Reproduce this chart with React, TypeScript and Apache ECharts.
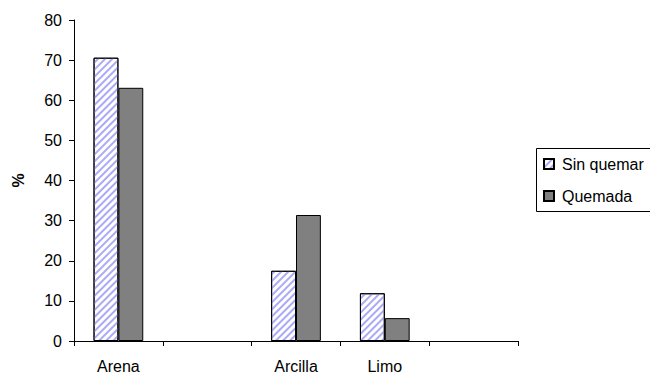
import React, { useEffect, useRef } from "react";
import * as echarts from "echarts";

const categories = ["Arena", "", "Arcilla", "Limo", ""];
const sinQuemar = [70.6, null, 17.5, 11.9, null];
const quemada = [63.1, null, 31.4, 5.7, null];
const yTicks = { min: 0, max: 80, interval: 10 };

const FONT = "'Liberation Sans', Arial, sans-serif";

export default function App() {
  const ref = useRef<HTMLDivElement>(null);

  useEffect(() => {
    document.body.style.margin = "0";
    const chart = echarts.init(ref.current!, null, { renderer: "svg" });
    chart.setOption({
      animation: false,
      backgroundColor: "#ffffff",
      textStyle: { fontFamily: FONT },
      grid: { left: 74, top: 20, right: 132, bottom: 34, outerBoundsMode: "none", containLabel: false },
      // legend frame runs past the right edge of the canvas
      graphic: [
        {
          type: "rect",
          shape: { x: 536.5, y: 148.5, width: 140, height: 63 },
          style: { fill: "none", stroke: "#000", lineWidth: 1 },
          z: 10,
        },
      ],
      legend: {
        orient: "vertical",
        left: 536,
        top: 148,
        itemWidth: 10,
        itemHeight: 10,
        itemGap: 16,
        padding: [8, 10, 7, 7],
        borderWidth: 0,
        icon: "rect",
        textStyle: { fontFamily: FONT, fontSize: 16, color: "#000", padding: [0, 0, 0, 3] },
        data: ["Sin quemar", "Quemada"],
      },
      xAxis: {
        type: "category",
        data: categories,
        axisLine: { lineStyle: { color: "#000", width: 1 } },
        axisTick: { show: true, interval: 0, length: 5, lineStyle: { color: "#000" } },
        axisLabel: { interval: 0, color: "#000", fontSize: 16, fontFamily: FONT, margin: 17 },
      },
      yAxis: {
        type: "value",
        min: yTicks.min,
        max: yTicks.max,
        interval: yTicks.interval,
        name: "%",
        nameLocation: "middle",
        nameGap: 48,
        nameTextStyle: { color: "#000", fontSize: 16, fontWeight: "bold", fontFamily: FONT },
        axisLine: { show: true, lineStyle: { color: "#000", width: 1 } },
        axisTick: { show: true, length: 5, lineStyle: { color: "#000" } },
        axisLabel: { color: "#000", fontSize: 16, fontFamily: FONT, margin: 12 },
        splitLine: { show: false },
      },
      series: [
        {
          name: "Sin quemar",
          type: "bar",
          data: sinQuemar,
          barGap: "0%",
          barCategoryGap: "44%",
          itemStyle: {
            color: "#ffffff",
            borderColor: "#000",
            borderWidth: 1,
            decal: {
              symbol: "rect",
              symbolSize: 1,
              dashArrayX: [1, 0],
              dashArrayY: [2, 3],
              rotation: -Math.PI / 4,
              color: "#aaaaf6",
            },
          },
        },
        {
          name: "Quemada",
          type: "bar",
          data: quemada,
          itemStyle: { color: "#808080", borderColor: "#000", borderWidth: 1 },
        },
      ],
    });
    return () => chart.dispose();
  }, []);

  return <div ref={ref} style={{ width: 650, height: 375 }} />;
}
